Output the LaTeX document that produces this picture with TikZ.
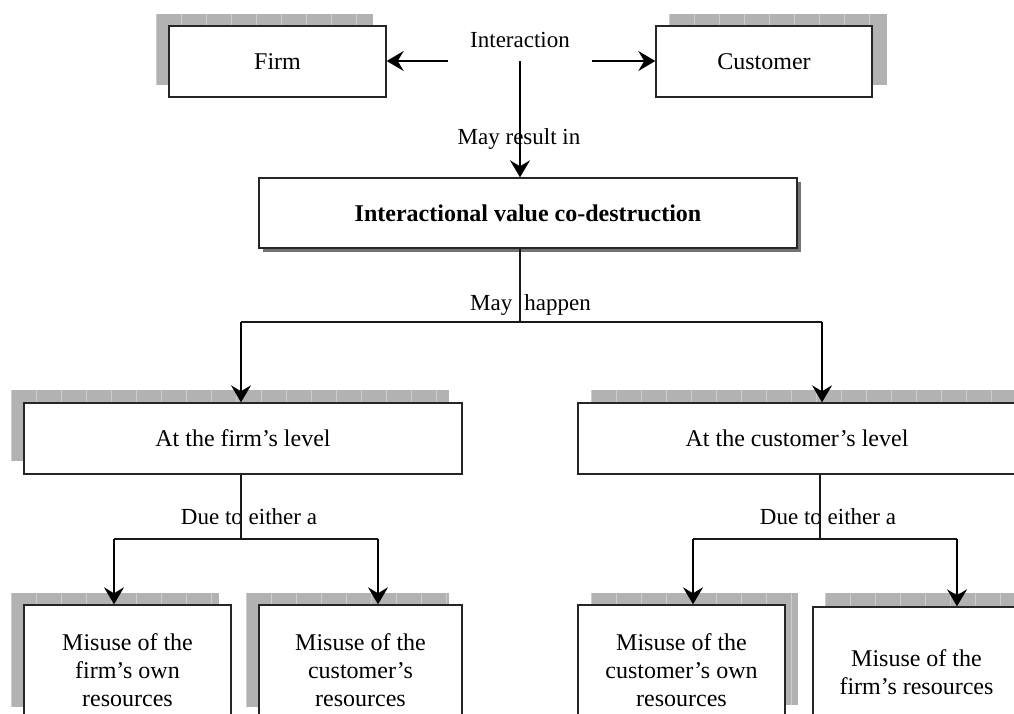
\documentclass[tikz,border=0pt]{standalone}
\usepackage{fontspec}
\setmainfont{Liberation Serif}
\usetikzlibrary{arrows.meta}
\newcommand{\gridshadow}[4]{%
  \begin{scope}
    \clip (#1,#2) rectangle (#3,#4);
    \fill[shadowfill] (#1,#2) rectangle (#3,#4);
    \begin{scope}[shift={(#1,#2)}]
      \draw[shadowgrid] (0,0) grid[step=25] (#3-#1,#4-#2);
    \end{scope}
  \end{scope}}
\begin{document}
\begin{tikzpicture}[x=1pt,y=-1pt,
  box/.style={draw=black!85, line width=1.4pt, fill=white, inner sep=0pt,
    font=\fontsize{24}{28}\selectfont, align=center},
  lbl/.style={inner sep=0pt, font=\fontsize{23}{27}\selectfont},
  conn/.style={line width=1.5pt, draw=black!90},
  arr/.style={line width=2pt, draw=black, -{Stealth[length=17pt,width=20pt,inset=6pt]}},
  shadowfill/.style={fill=black!30},
  shadowgrid/.style={draw=black!20, line width=0.8pt}]
\useasboundingbox (0,0) rectangle (1014,713);
\begin{scope}
\clip (0,0) rectangle (1014,713);
% shadows
\gridshadow{156}{14}{373}{85}
\gridshadow{669}{14}{887}{85}
\gridshadow{11}{390}{449}{461}
\gridshadow{591}{390}{1029}{461}
\gridshadow{11}{593}{219}{707}
\gridshadow{246}{593}{449}{707}
\gridshadow{591}{593}{798}{705}
\gridshadow{825}{593}{1033}{705}
\fill[black!55] (263,182) rectangle (801,252);

% boxes
\node[box, minimum width=217pt, minimum height=71pt] (firm) at (277.5,61.5) {Firm};
\node[box, minimum width=216pt, minimum height=71pt] (cust) at (764,61.5) {Customer};
\node[box, minimum width=538pt, minimum height=70pt] (icd) at (528,213) {\bfseries Interactional value co-destruction};
\node[box, minimum width=438pt, minimum height=71pt] (afl) at (243,438.5) {At the firm’s level};
\node[box, minimum width=438pt, minimum height=71pt] (acl) at (797,438.5) {At the customer’s level};
\node[box, minimum width=207pt, minimum height=130pt] (b1) at (127.5,670) {Misuse of the\\firm’s own\\resources};
\node[box, minimum width=203pt, minimum height=130pt] (b2) at (360.5,670) {Misuse of the\\customer’s\\resources};
\node[box, minimum width=207pt, minimum height=130pt] (b3) at (681.5,670) {Misuse of the\\customer’s own\\resources};
\node[box, minimum width=207pt, minimum height=130pt] (b4) at (916.5,672) {Misuse of the\\firm’s resources};

% labels
\node[lbl] (inter) at (520,40) {Interaction};
\node[lbl] (mayres) at (519,139) {May result in};
\node[lbl, anchor=west] (mayhap) at (470,305) {May\hspace{12pt}happen};
\node[lbl] (due1) at (249,517) {Due to either a};
\node[lbl] (due2) at (828,517) {Due to either a};

% coordinates
\coordinate (il) at (448,61);
\coordinate (ir) at (592,61);
\coordinate (iv) at (520,61);
\coordinate (mh) at (520,322);
\coordinate (hl) at (241,322);
\coordinate (hr) at (822,322);
\coordinate (ll) at (241,539);
\coordinate (lla) at (114,539);
\coordinate (llb) at (378,539);
\coordinate (rr) at (820,539);
\coordinate (rra) at (693,539);
\coordinate (rrb) at (957,539);

% connectors
\draw[arr] (il) -- (firm.east |- il);
\draw[arr] (ir) -- (cust.west |- ir);
\draw[arr] (iv) -- (iv |- icd.north);
\draw[conn] (iv |- icd.south) -- (mh);
\draw[conn] (hl) -- (hr);
\draw[arr] (hl) -- (hl |- afl.north);
\draw[arr] (hr) -- (hr |- acl.north);
\draw[conn] (ll |- afl.south) -- (ll);
\draw[conn] (lla) -- (llb);
\draw[arr] (lla) -- (lla |- b1.north);
\draw[arr] (llb) -- (llb |- b2.north);
\draw[conn] (rr |- acl.south) -- (rr);
\draw[conn] (rra) -- (rrb);
\draw[arr] (rra) -- (rra |- b3.north);
\draw[arr] (rrb) -- (rrb |- b4.north);
\end{scope}
\end{tikzpicture}
\end{document}
